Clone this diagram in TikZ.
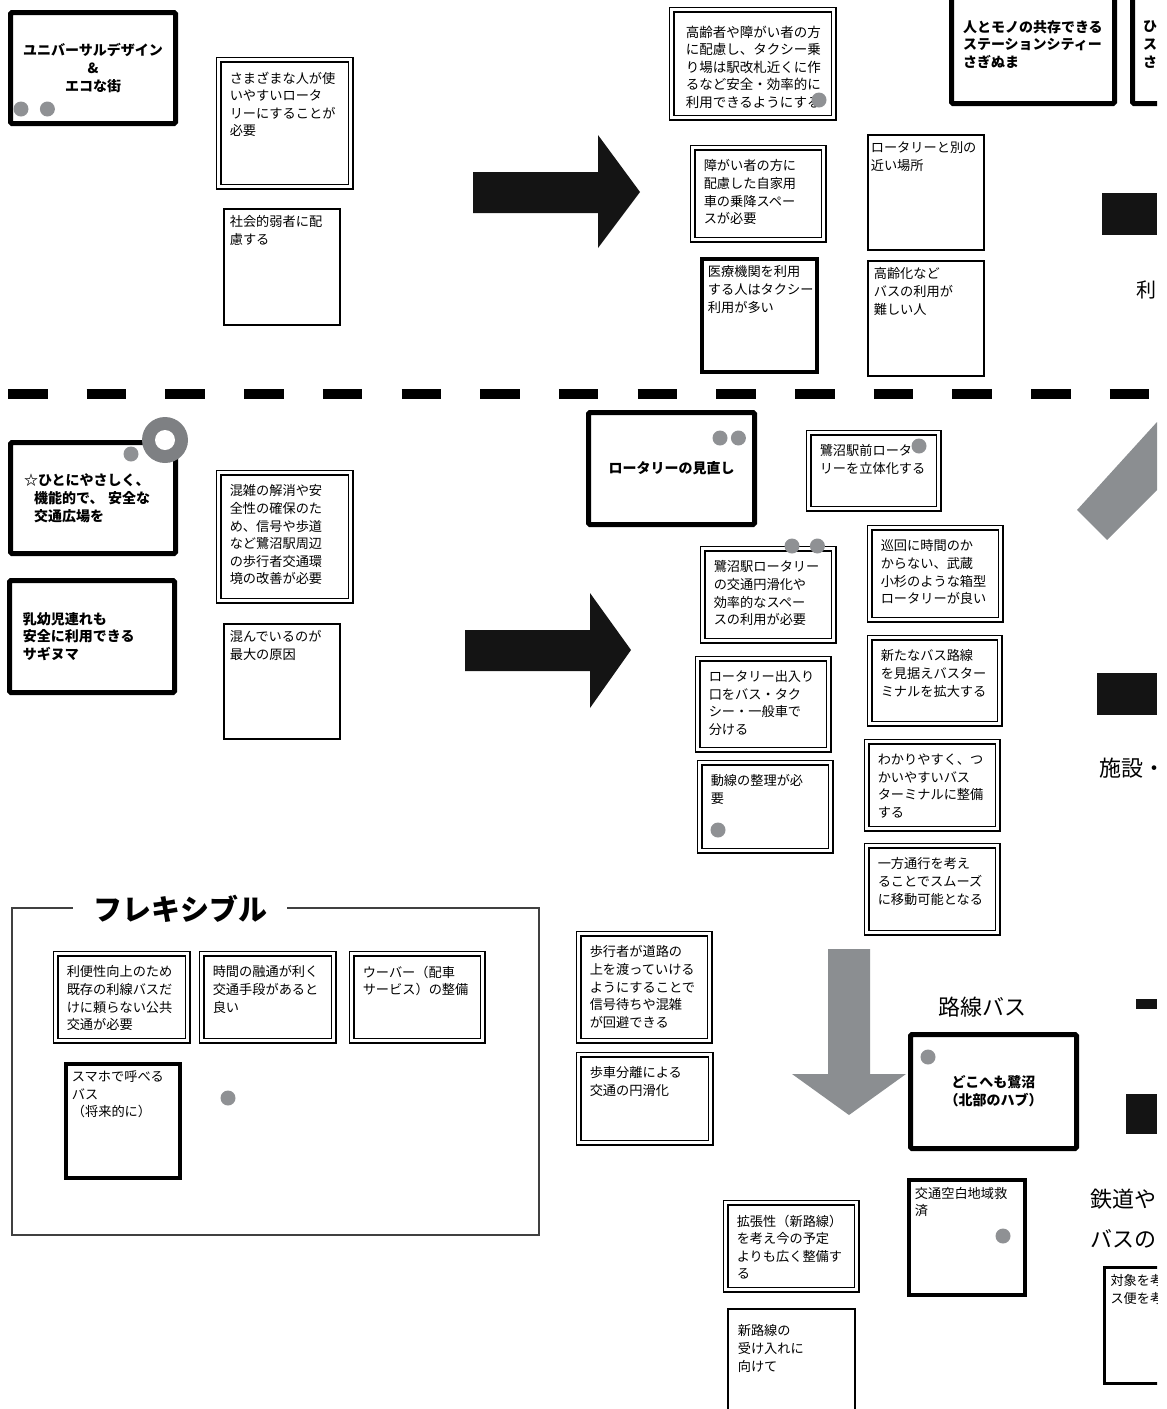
\documentclass[tikz,border=0pt]{standalone}
\usepackage{fontspec}
\setmainfont{Noto Sans CJK JP}
\usetikzlibrary{positioning}
\setlength{\parindent}{0pt}
\definecolor{dotgray}{HTML}{8F9194}
\definecolor{ringgray}{HTML}{7E8083}
\definecolor{shadegray}{HTML}{8B8E91}
\newcommand{\memofont}{\fontsize{13.2}{17.6}\selectfont}
\newcommand{\memo}[3]{\parbox[t][\dimexpr #2pt-2\dimexpr\pgfkeysvalueof{/pgf/inner ysep}\relax\relax][t]{\dimexpr #1pt-2\dimexpr\pgfkeysvalueof{/pgf/inner xsep}\relax\relax}{#3}}
\tikzstyle{note} = [rectangle, draw=black, line width=1.6pt, anchor=north west, inner xsep=6pt, inner ysep=7pt, font=\memofont]
\tikzstyle{tnote} = [note, line width=3.8pt]
\tikzstyle{dnote} = [rectangle, draw=black, double, line width=1.5pt, double distance=3.4pt, anchor=north west, inner xsep=11pt, inner ysep=12pt, font=\memofont]
\tikzstyle{theme} = [rectangle, draw=black, line width=5pt, rounded corners=1.5pt, font=\bfseries\fontsize{14}{17.8}\selectfont]
\tikzstyle{dot} = [circle, fill=dotgray, minimum size=15pt, inner sep=0pt]
\tikzstyle{bigword} = [inner sep=0pt, font=\fontsize{22}{26}\selectfont]

\begin{document}
\begin{tikzpicture}[x=1pt, y=-1pt]
    \useasboundingbox (0,0) rectangle (1167,1409);
    \clip (0,0) rectangle (1157,1409);

    % upper part
    \node (univ) [theme, minimum width=165pt, minimum height=111pt, align=center] at (93,68) {ユニバーサルデザイン\\\&\\エコな街};
    \node (usable) [dnote] at (218,59) {\memo{132}{127}{さまざまな人が使\\いやすいロータ\\リーにすることが\\必要}};
    \node (weak) [note] at (223,208) {\memo{116}{116}{社会的弱者に配\\慮する}};
    \fill [black!92] (473,172) -- (598,172) -- (598,135) -- (640,192) -- (598,248) -- (598,213) -- (473,213) -- cycle;
    \node (taxi) [dnote, inner xsep=14pt, inner ysep=16pt, font=\fontsize{13.5}{17.5}\selectfont] at (671,9) {\memo{162}{108}{高齢者や障がい者の方\\に配慮し、タクシー乗\\り場は駅改札近くに作\\るなど安全・効率的に\\利用できるようにする}};
    \node (car) [dnote] at (692,147) {\memo{131}{92}{障がい者の方に\\配慮した自家用\\車の乗降スペー\\スが必要}};
    \node (clinic) [tnote] at (700,257) {\memo{115}{113}{医療機関を利用\\する人はタクシー\\利用が多い}};
    \node (near) [note, inner xsep=3pt] at (867,134) {\memo{116}{115}{ロータリーと別の\\近い場所}};
    \node (aged) [note] at (867,260) {\memo{116}{115}{高齢化など\\バスの利用が\\難しい人}};
    \node (hitomono) [theme, minimum width=163pt, minimum height=118pt, text width=140pt, align=left] at (1033,44.5) {人とモノの共存できる\\ステーションシティー\\さぎぬま};
    \node (hitosta) [theme, minimum width=163pt, minimum height=118pt, text width=142pt, align=left] at (1214,44.5) {ひ\\ス\\さ};
    \fill [black!92] (1102,193) rectangle (1157,235);
    \node (ri) [bigword, anchor=west, font=\fontsize{20}{24}\selectfont] at (1136,290) {利};
    \node (univdotA) [dot] at (21,109) {};
    \node (univdotB) [dot, right=11pt of univdotA] {};
    \node (taxidot) [dot] at (819,100) {};

    % separator
    \draw [line width=10pt, dash pattern=on 39.5pt off 39.2pt] (8,394) -- (1157,394);

    % middle part
    \node (yasashiku) [theme, minimum width=165pt, minimum height=111pt, text width=138pt, align=left] at (93,498) {☆ひとにやさしく、\\\hspace*{0.72em}機能的で、 安全な\\\hspace*{0.72em}交通広場を};
    \node (nyuyoji) [theme, minimum width=165pt, minimum height=112pt, text width=138pt, align=left] at (92,636.5) {乳幼児連れも\\安全に利用できる\\サギヌマ};
    \node (crowd) [dnote] at (218,472) {\memo{132}{128}{混雑の解消や安\\全性の確保のた\\め、信号や歩道\\など鷺沼駅周辺\\の歩行者交通環\\境の改善が必要}};
    \node (cause) [note] at (223,623) {\memo{116}{115}{混んでいるのが\\最大の原因}};
    \fill [black!92] (465,630) -- (590,630) -- (590,593) -- (631,650) -- (590,708) -- (590,671) -- (465,671) -- cycle;
    \node (rotary) [theme, minimum width=166pt, minimum height=112pt, align=center] at (671.5,468.5) {ロータリーの見直し};
    \node (solid) [dnote] at (808,432) {\memo{130}{76}{鷺沼駅前ロータ\\リーを立体化する}};
    \node (smooth) [dnote] at (702,548) {\memo{131}{92}{鷺沼駅ロータリー\\の交通円滑化や\\効率的なスペー\\スの利用が必要}};
    \node (boxtype) [dnote] at (869,527) {\memo{131}{92}{巡回に時間のか\\からない、武蔵\\小杉のような箱型\\ロータリーが良い}};
    \node (terminal) [dnote] at (869,637) {\memo{130}{86}{新たなバス路線\\を見据えバスター\\ミナルを拡大する}};
    \node (gates) [dnote] at (697,658) {\memo{131}{91}{ロータリー出入り\\口をバス・タク\\シー・一般車で\\分ける}};
    \node (flow) [dnote] at (699,762) {\memo{131}{88}{動線の整理が必\\要}};
    \node (easy) [dnote] at (866,741) {\memo{131}{87}{わかりやすく、つ\\かいやすいバス\\ターミナルに整備\\する}};
    \node (oneway) [dnote] at (866,845) {\memo{131}{87}{一方通行を考え\\ることでスムーズ\\に移動可能となる}};
    \fill [shadegray] (1157,422) -- (1157,490) -- (1107,540) -- (1077,510) -- cycle;
    \fill [black!92] (1097,673) rectangle (1157,715);
    \node (shisetsu) [bigword, anchor=west] at (1099,768) {施設・};
    \fill [ringgray] (165,440) circle (23pt);
    \fill [white] (165,440) circle (10pt);
    \node (yasadot) [dot] at (131,454) {};
    \node (rotdotA) [dot] at (720,438) {};
    \node (rotdotB) [dot, right=3pt of rotdotA] {};
    \node (soliddot) [dot] at (919,446) {};
    \node (smoothdotA) [dot] at (792,546) {};
    \node (smoothdotB) [dot, right=10pt of smoothdotA] {};
    \node (flowdot) [dot] at (718,830) {};

    % lower part
    \draw [black!75, line width=1.4pt] (12,908) rectangle (539,1235);
    \node (flex) [fill=white, inner xsep=20pt, font=\bfseries\fontsize{29}{32}\selectfont] at (180,909) {フレキシブル};
    \node (convenience) [dnote] at (55,953) {\memo{132}{87}{利便性向上のため\\既存の利線バスだ\\けに頼らない公共\\交通が必要}};
    \node (flexible) [dnote] at (201,953) {\memo{132}{87}{時間の融通が利く\\交通手段があると\\良い}};
    \node (uber) [dnote] at (351,953) {\memo{131}{87}{ウーバー（配車\\サービス）の整備}};
    \node (smartbus) [tnote] at (64,1062) {\memo{114}{114}{スマホで呼べる\\バス\\（将来的に）}};
    \node (flexdot) [dot] at (228,1098) {};
    \node (walkover) [dnote] at (578,933) {\memo{131}{107}{歩行者が道路の\\上を渡っていける\\ようにすることで\\信号待ちや混雑\\が回避できる}};
    \node (separate) [dnote] at (578,1054) {\memo{132}{88}{歩車分離による\\交通の円滑化}};
    \fill [shadegray] (828,949) -- (870,949) -- (870,1074) -- (906,1074) -- (849,1115) -- (792,1074) -- (828,1074) -- cycle;
    \node (rosen) [bigword] at (982,1007) {路線バス};
    \node (dokohe) [theme, minimum width=166pt, minimum height=114pt, align=center] at (993.5,1091.5) {どこへも鷺沼\\（北部のハブ）};
    \node (blank) [tnote] at (907,1178) {\memo{116}{115}{交通空白地域救\\済}};
    \node (expand) [dnote] at (725,1202) {\memo{131}{87}{拡張性（新路線）\\を考え今の予定\\よりも広く整備す\\る}};
    \node (newline) [note, inner xsep=10pt, inner ysep=16pt] at (727,1308) {\memo{127}{120}{新路線の\\受け入れに\\向けて}};
    \fill [black!92] (1136,999) rectangle (1157,1009);
    \fill [black!92] (1126,1094) rectangle (1157,1134);
    \node (tetsudo) [bigword, anchor=west] at (1090,1199) {鉄道や};
    \node (basuno) [bigword, anchor=west] at (1090,1239) {バスの};
    \node (target) [tnote, line width=3pt] at (1103,1266) {\memo{80}{116}{対象を考\\ス便を考}};
    \node (dokodot) [dot] at (928,1057) {};
    \node (blankdot) [dot] at (1003,1236) {};

\end{tikzpicture}
\end{document}
